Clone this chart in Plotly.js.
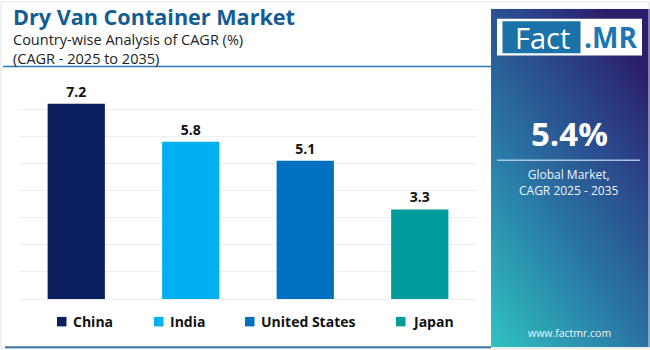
<!DOCTYPE html>
<html>
<head>
<meta charset="utf-8">
<script src="https://cdn.plot.ly/plotly-3.0.1.min.js"></script>
<style>html,body{margin:0;padding:0;background:#fff;}#chart{width:650px;height:350px;}</style>
</head>
<body>
<div id="chart"></div>
<script>
const countries = ["China", "India", "United States", "Japan"];
const cagr = [7.2, 5.8, 5.1, 3.3];
const barColors = ["#0b1f5f", "#00b0f0", "#0070c0", "#009b9b"];
const titleText = "Dry Van Container Market";
const subtitle1 = "Country-wise Analysis of CAGR (%)";
const subtitle2 = "(CAGR - 2025 to 2035)";
const globalValue = "5.4%";
const globalLabel = "Global Market,<br>CAGR 2025 - 2035";
const website = "www.factmr.com";

const FONT = "Open Sans, sans-serif";

// plot area geometry in pixels (for paper-coordinate conversion of decorations)
const PL = 19, PW = 458, PB = 299.5, PH = 218;
const px = x => (x - PL) / PW;
const py = y => (PB - y) / PH;

const traces = countries.map((c, i) => ({
  type: "bar",
  name: c,
  x: [c],
  y: [cagr[i]],
  width: 0.5,
  marker: {color: barColors[i]},
  text: [cagr[i].toFixed(1)],
  textposition: "outside",
  textfont: {family: FONT, size: 14, color: "#111", weight: 700},
  cliponaxis: false,
  hoverinfo: "skip",
  showlegend: false
}));

const gradSvg = '<svg xmlns="http://www.w3.org/2000/svg" width="160" height="340" viewBox="0 0 160 340">' +
  '<defs><linearGradient id="g" x1="0" y1="1" x2="0.7" y2="0">' +
  '<stop offset="0" stop-color="#30c2c0"/>' +
  '<stop offset="0.45" stop-color="#2a74a4"/>' +
  '<stop offset="0.8" stop-color="#2b3f86"/>' +
  '<stop offset="1" stop-color="#2c1e6c"/>' +
  '</linearGradient></defs><rect width="160" height="340" fill="url(#g)"/></svg>';
const gradSrc = "data:image/svg+xml;base64," + btoa(gradSvg);

// legend key positions (left edge of square, px)
const legendX = [57, 154, 245, 396];

const shapes = [
  {type: "rect", xref: "paper", yref: "paper", x0: px(1), x1: px(649), y0: py(349), y1: py(1), line: {color: "#e2e2e2", width: 1}, fillcolor: "rgba(0,0,0,0)"},
  {type: "line", xref: "paper", yref: "paper", x0: px(3), x1: px(491), y0: py(66), y1: py(66), line: {color: "#2b7bb3", width: 1.5}},
  {type: "line", xref: "paper", yref: "paper", x0: px(5), x1: px(491), y0: py(348), y1: py(348), line: {color: "#3a78a8", width: 2}},
  {type: "rect", xref: "paper", yref: "paper", x0: px(497), x1: px(642), y0: py(55), y1: py(18), fillcolor: "#ffffff", line: {width: 0}},
  {type: "rect", xref: "paper", yref: "paper", x0: px(502.5), x1: px(580.5), y0: py(52.5), y1: py(20.5), fillcolor: "#1b72a8", line: {width: 0}},
  {type: "line", xref: "paper", yref: "paper", x0: px(497), x1: px(640), y0: py(160), y1: py(160), line: {color: "rgba(200,215,235,0.85)", width: 1.5}}
];

const annotations = [
  {text: "<b>" + titleText + "</b>", xref: "paper", yref: "paper", x: px(11), y: py(15.5), xanchor: "left", yanchor: "middle", showarrow: false, font: {family: FONT, size: 21.6, color: "#135d92"}},
  {text: subtitle1, xref: "paper", yref: "paper", x: px(11), y: py(38.5), xanchor: "left", yanchor: "middle", showarrow: false, font: {family: FONT, size: 14.5, color: "#222"}},
  {text: subtitle2, xref: "paper", yref: "paper", x: px(11), y: py(57.5), xanchor: "left", yanchor: "middle", showarrow: false, font: {family: FONT, size: 14.5, color: "#222"}},
  {text: "Fact", xref: "paper", yref: "paper", x: px(542), y: py(36.5), xanchor: "center", yanchor: "middle", showarrow: false, font: {family: FONT, size: 29, color: "#ffffff"}},
  {text: "<b>.MR</b>", xref: "paper", yref: "paper", x: px(610), y: py(36.5), xanchor: "center", yanchor: "middle", showarrow: false, font: {family: FONT, size: 28, color: "#1b76b2"}},
  {text: "<b>" + globalValue + "</b>", xref: "paper", yref: "paper", x: px(569), y: py(133), xanchor: "center", yanchor: "middle", showarrow: false, font: {family: FONT, size: 33, color: "#ffffff"}},
  {text: globalLabel, xref: "paper", yref: "paper", x: px(569), y: py(182), xanchor: "center", yanchor: "middle", showarrow: false, font: {family: FONT, size: 12, color: "#f0f4fa"}},
  {text: website, xref: "paper", yref: "paper", x: px(569), y: py(334), xanchor: "center", yanchor: "middle", showarrow: false, font: {family: FONT, size: 10.5, color: "#f0f4fa"}}
];

countries.forEach((c, i) => {
  shapes.push({type: "rect", xref: "paper", yref: "paper", x0: px(legendX[i]), x1: px(legendX[i] + 9.5), y0: py(327), y1: py(317.5), fillcolor: barColors[i], line: {width: 0}});
  annotations.push({text: "<b>" + c + "</b>", xref: "paper", yref: "paper", x: px(legendX[i] + 14), y: py(322), xanchor: "left", yanchor: "middle", showarrow: false, font: {family: FONT, size: 14, color: "#111"}});
});

const layout = {
  width: 650, height: 350,
  margin: {l: 19, r: 173, t: 81.5, b: 50.5},
  paper_bgcolor: "#ffffff",
  plot_bgcolor: "#ffffff",
  barmode: "overlay",
  showlegend: false,
  xaxis: {
    type: "category",
    categoryorder: "array",
    categoryarray: countries,
    showticklabels: false,
    showgrid: false,
    zeroline: false,
    showline: false,
    ticks: "",
    fixedrange: true
  },
  yaxis: {
    range: [0, 8],
    dtick: 1,
    showticklabels: false,
    showgrid: true,
    gridcolor: "#eeeeee",
    gridwidth: 1,
    zeroline: true,
    zerolinecolor: "#eeeeee",
    showline: false,
    ticks: "",
    fixedrange: true
  },
  images: [{
    source: gradSrc,
    xref: "paper", yref: "paper",
    x: px(491), y: py(8),
    sizex: 160 / PW, sizey: 340 / PH,
    xanchor: "left", yanchor: "top",
    sizing: "stretch",
    layer: "below"
  }],
  shapes: shapes,
  annotations: annotations
};

Plotly.newPlot("chart", traces, layout, {displayModeBar: false, staticPlot: true});
</script>
</body>
</html>
